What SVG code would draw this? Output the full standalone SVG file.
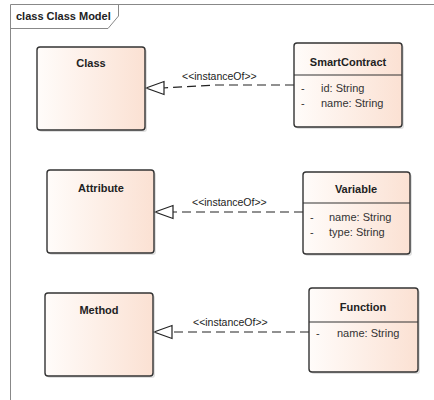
<svg xmlns="http://www.w3.org/2000/svg" width="434" height="400" viewBox="0 0 434 400">
<defs>
<linearGradient id="fillGrad" x1="0" y1="0" x2="1" y2="0">
<stop offset="0" stop-color="#fffcfa"/>
<stop offset="1" stop-color="#fbe1d3"/>
</linearGradient>
<style>
.box{fill:url(#fillGrad);stroke:#333;stroke-width:1.4}
.shadow{fill:#bbb;opacity:0.45}
.title{font-family:"Liberation Sans",Arial,sans-serif;font-size:11px;font-weight:bold;fill:#222;text-anchor:middle}
.attr{font-family:"Liberation Sans",Arial,sans-serif;font-size:11px;fill:#333}
.lbl{font-family:"Liberation Sans",Arial,sans-serif;font-size:10.5px;fill:#222}
.div{stroke:#333;stroke-width:1.2}
.dash{fill:none;stroke:#222;stroke-width:1.2;stroke-dasharray:9,5}
.tri{fill:#fff;stroke:#222;stroke-width:1.2}
.frame{fill:none;stroke:#888;stroke-width:1}
</style>
</defs>
<rect width="434" height="400" fill="#fff"/>
<g id="frame">
<path class="frame" d="M10.5,400 V4.5 H434"/>
<path class="frame" d="M10.5,28.5 H108 L118.5,16 V4.5"/>
<text x="16" y="20" class="lbl" style="font-weight:bold;font-size:11px">class Class Model</text>
</g>
<g id="connectors">
<polyline class="dash" points="294,85 215,85 163,88"/>
<polygon class="tri" points="146,88 164,81.5 164,94.5"/>
<text class="lbl" x="182" y="80">&lt;&lt;instanceOf&gt;&gt;</text>
<line class="dash" x1="303" y1="212" x2="173" y2="212"/>
<polygon class="tri" points="155,212 173,205.5 173,218.5"/>
<text class="lbl" x="192" y="206">&lt;&lt;instanceOf&gt;&gt;</text>
<line class="dash" x1="309" y1="332" x2="172" y2="332"/>
<polygon class="tri" points="154,332 172,325.5 172,338.5"/>
<text class="lbl" x="193" y="326">&lt;&lt;instanceOf&gt;&gt;</text>
</g>
<g id="Class">
<rect class="shadow" x="39" y="49" width="108" height="83" rx="3"/>
<rect class="box" x="37" y="47" width="108" height="83" rx="3"/>
<text class="title" x="91" y="67">Class</text>
</g>
<g id="SmartContract">
<rect class="shadow" x="296" y="45" width="108" height="84" rx="3"/>
<rect class="box" x="294" y="43" width="108" height="84" rx="3"/>
<text class="title" x="348" y="66">SmartContract</text>
<line class="div" x1="294" y1="75" x2="402" y2="75"/>
<text class="attr" x="301" y="92">-</text>
<text class="attr" x="321" y="92">id: String</text>
<text class="attr" x="301" y="107">-</text>
<text class="attr" x="321" y="107">name: String</text>
</g>
<g id="Attribute">
<rect class="shadow" x="49" y="172" width="107" height="83" rx="3"/>
<rect class="box" x="47" y="170" width="107" height="83" rx="3"/>
<text class="title" x="101" y="192">Attribute</text>
</g>
<g id="Variable">
<rect class="shadow" x="305" y="174" width="107" height="82" rx="3"/>
<rect class="box" x="303" y="172" width="107" height="82" rx="3"/>
<text class="title" x="356" y="193">Variable</text>
<line class="div" x1="303" y1="203" x2="410" y2="203"/>
<text class="attr" x="310" y="221">-</text>
<text class="attr" x="329" y="221">name: String</text>
<text class="attr" x="310" y="236">-</text>
<text class="attr" x="329" y="236">type: String</text>
</g>
<g id="Method">
<rect class="shadow" x="47" y="295" width="108" height="83" rx="3"/>
<rect class="box" x="45" y="293" width="108" height="83" rx="3"/>
<text class="title" x="99" y="314">Method</text>
</g>
<g id="Function">
<rect class="shadow" x="311" y="290" width="109" height="84" rx="3"/>
<rect class="box" x="309" y="288" width="109" height="84" rx="3"/>
<text class="title" x="363" y="311">Function</text>
<line class="div" x1="309" y1="322" x2="418" y2="322"/>
<text class="attr" x="316" y="337">-</text>
<text class="attr" x="337" y="337">name: String</text>
</g>
</svg>
